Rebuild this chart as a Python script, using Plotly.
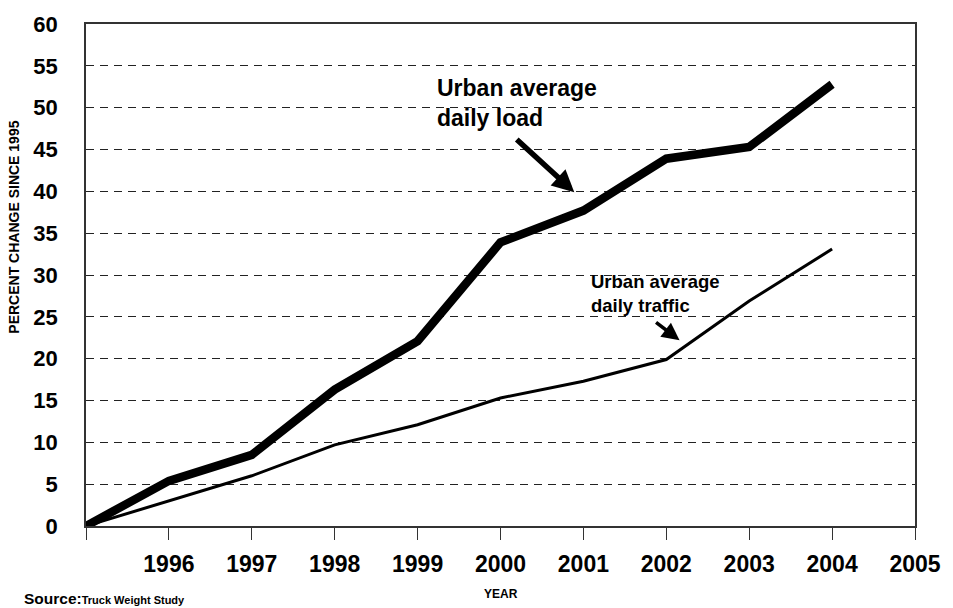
import plotly.graph_objects as go

years = [1995, 1996, 1997, 1998, 1999, 2000, 2001, 2002, 2003, 2004]
daily_load = [0, 5.4, 8.5, 16.3, 22.1, 33.9, 37.7, 43.9, 45.3, 52.8]
daily_traffic = [0, 3.0, 6.0, 9.7, 12.1, 15.3, 17.3, 19.9, 26.9, 33.1]

x_tickvals = [1995, 1996, 1997, 1998, 1999, 2000, 2001, 2002, 2003, 2004, 2005]
x_ticktext = ["", "1996", "1997", "1998", "1999", "2000", "2001", "2002", "2003", "2004", "2005"]
y_tickvals = [0, 5, 10, 15, 20, 25, 30, 35, 40, 45, 50, 55, 60]

FONT = "Liberation Sans, Arial, sans-serif"

fig = go.Figure()
fig.add_trace(go.Scatter(x=years, y=daily_traffic, mode="lines",
                         line=dict(color="black", width=3), name="Urban average daily traffic"))
fig.add_trace(go.Scatter(x=years, y=daily_load, mode="lines",
                         line=dict(color="black", width=8.5), name="Urban average daily load"))

fig.update_layout(
    width=953, height=608,
    margin=dict(l=86, r=33, t=16, b=82),
    paper_bgcolor="white", plot_bgcolor="white",
    showlegend=False,
    font=dict(family=FONT, color="black"),
    xaxis=dict(range=[1995, 2005], tickvals=x_tickvals, ticktext=x_ticktext,
               ticks="outside", ticklen=12, tickwidth=1, tickcolor="#333",
               showline=True, linecolor="#333", linewidth=1.5, mirror=True,
               showgrid=False, zeroline=False,
               tickfont=dict(family=FONT, size=23, color="black", weight="bold"),
               ticklabelstandoff=5),
    yaxis=dict(range=[0, 60], tickvals=y_tickvals,
               ticks="", showline=True, linecolor="#333", linewidth=1.5, mirror=True,
               showgrid=True, gridcolor="#222", gridwidth=1, griddash="8px,6px",
               zeroline=False,
               tickfont=dict(family=FONT, size=22, color="black", weight="bold"),
               ticklabelstandoff=22),
)

annotations = [
    dict(text="<b>Urban average<br>daily load</b>", x=1999.21, y=50.5, xref="x", yref="y",
         xanchor="left", yanchor="middle", align="left", showarrow=False,
         font=dict(family=FONT, size=23, color="black")),
    dict(text="", x=2000.89, y=39.9, xref="x", yref="y", showarrow=True,
         ax=-59, ay=-54, arrowhead=2, arrowsize=0.8, arrowwidth=5.5, arrowcolor="black"),
    dict(text="<b>Urban average<br>daily traffic</b>", x=2001.07, y=27.8, xref="x", yref="y",
         xanchor="left", yanchor="middle", align="left", showarrow=False,
         font=dict(family=FONT, size=18.5, color="black")),
    dict(text="", x=2002.16, y=22.2, xref="x", yref="y", showarrow=True,
         ax=-25, ay=-19, arrowhead=2, arrowsize=1, arrowwidth=3.5, arrowcolor="black"),
    dict(text="<b>PERCENT CHANGE SINCE 1995</b>", x=-0.087, y=0.596, xref="paper", yref="paper",
         textangle=-90, showarrow=False, xanchor="center", yanchor="middle",
         font=dict(family=FONT, size=14, color="black")),
    dict(text="<b>YEAR</b>", x=0.5, y=0, xref="paper", yref="paper", yshift=-68,
         showarrow=False, xanchor="center", yanchor="middle",
         font=dict(family=FONT, size=12, color="black")),
    dict(text="<b><span style='font-size:15.5px'>Source:</span><span style='font-size:11px'>Truck Weight Study</span></b>",
         x=-0.0767, y=0, xref="paper", yref="paper", yshift=-83,
         showarrow=False, xanchor="left", yanchor="bottom",
         font=dict(family=FONT, size=15.5, color="black")),
]
fig.update_layout(annotations=annotations)

fig.write_html("out.html", config={"displayModeBar": False},
               post_script="document.body.style.margin='0';document.body.style.overflow='hidden';")
